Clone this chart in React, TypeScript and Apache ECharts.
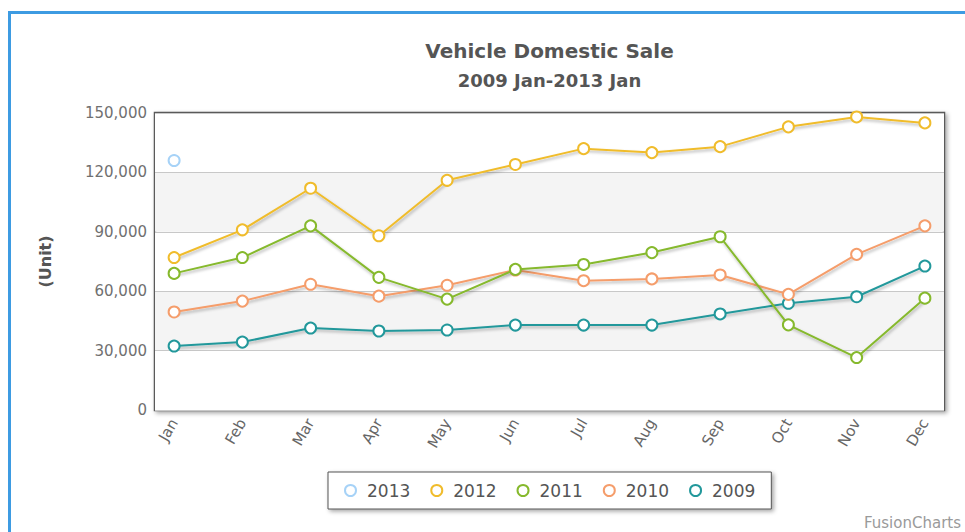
import React, { useEffect, useRef } from "react";
import * as echarts from "echarts";

const months = ["Jan", "Feb", "Mar", "Apr", "May", "Jun", "Jul", "Aug", "Sep", "Oct", "Nov", "Dec"];
const years = ["2013", "2012", "2011", "2010", "2009"];
const colors = ["#a6d2f7", "#f0bc2c", "#86b92d", "#f59d6b", "#22989b"];

const sales2013 = [126000];
const sales2012 = [77000, 91000, 112000, 88000, 116000, 124000, 132000, 130000, 133000, 143000, 148000, 145000];
const sales2011 = [69000, 77000, 93000, 67000, 56000, 71000, 73500, 79500, 87500, 43000, 26500, 56500];
const sales2010 = [49500, 55000, 63500, 57500, 63000, 70700, 65300, 66200, 68200, 58400, 78600, 93000];
const sales2009 = [32300, 34300, 41400, 39900, 40400, 42900, 42900, 42900, 48500, 53900, 57200, 72700];

const yTicks = [0, 30000, 60000, 90000, 120000, 150000];

const seriesValues = [sales2013, sales2012, sales2011, sales2010, sales2009];

export default function App() {
  const ref = useRef<HTMLDivElement>(null);
  useEffect(() => {
    if (!ref.current) return;
    const chart = echarts.init(ref.current, undefined, { renderer: "svg" });
    const font = "DejaVu Sans";
    chart.setOption({
      animation: false,
      backgroundColor: "#ffffff",
      textStyle: { fontFamily: font },
      graphic: [
        {
          type: "rect",
          shape: { x: 9.5, y: 12.5, width: 1000, height: 600 },
          style: { fill: "none", stroke: "#3d9be2", lineWidth: 3 },
          silent: true,
        },
        {
          type: "text",
          x: 549.5,
          y: 51,
          style: {
            text: "Vehicle Domestic Sale",
            fontFamily: font,
            fontWeight: "bold",
            fontSize: 20,
            fill: "#555555",
            textAlign: "center",
            textVerticalAlign: "middle",
          },
        },
        {
          type: "text",
          x: 549.5,
          y: 80,
          style: {
            text: "2009 Jan-2013 Jan",
            fontFamily: font,
            fontWeight: "bold",
            fontSize: 18,
            fill: "#555555",
            textAlign: "center",
            textVerticalAlign: "middle",
          },
        },
        {
          type: "text",
          right: 4,
          bottom: 2,
          style: {
            text: "FusionCharts",
            fontFamily: font,
            fontSize: 15,
            fill: "#9a9a9a",
          },
        },
      ],
      grid: {
        left: 155,
        right: 21,
        top: 113,
        bottom: 122,
        show: true,
        backgroundColor: "#ffffff",
        borderColor: "#5a5a5a",
        borderWidth: 2.5,
        shadowColor: "rgba(0,0,0,0.35)",
        shadowBlur: 4,
        shadowOffsetX: 2,
        shadowOffsetY: 2,
      },
      legend: {
        left: 328,
        top: 472,
        data: years.map((n, i) => ({
          name: n,
          icon: "circle",
          itemStyle: { color: "#ffffff", borderColor: colors[i], borderWidth: 2 },
        })),
        itemWidth: 11,
        itemHeight: 11,
        itemGap: 20,
        padding: [10, 16, 10, 16],
        backgroundColor: "#ffffff",
        borderColor: "#555555",
        borderWidth: 1,
        shadowColor: "rgba(0,0,0,0.35)",
        shadowBlur: 4,
        shadowOffsetX: 2,
        shadowOffsetY: 2,
        selectedMode: false,
        textStyle: { fontFamily: font, fontSize: 17, color: "#555555", padding: [0, 0, 0, 6] },
      },
      xAxis: {
        type: "value",
        min: -0.28,
        max: 11.28,
        axisLine: { show: false },
        axisTick: { show: false },
        splitLine: { show: false },
        axisLabel: {
          customValues: months.map((_, i) => i),
          formatter: (v: number) => months[Math.round(v)] ?? "",
          rotate: 60,
          margin: 10,
          fontSize: 15,
          color: "#666666",
          fontFamily: font,
        },
      },
      yAxis: {
        type: "value",
        min: 0,
        max: 150000,
        interval: 30000,
        name: "(Unit)",
        nameLocation: "middle",
        nameRotate: 90,
        nameGap: 102,
        nameTextStyle: { fontFamily: font, fontWeight: "bold", fontSize: 16, color: "#555555" },
        axisLine: { show: false },
        axisTick: { show: false },
        axisLabel: {
          margin: 8,
          fontSize: 15,
          color: "#707070",
          fontFamily: font,
          customValues: yTicks,
          formatter: (v: number) => v.toLocaleString("en-US"),
        },
        splitLine: { show: true, lineStyle: { color: "#c8c8c8", width: 1 } },
        splitArea: { show: true, areaStyle: { color: ["#ffffff", "#f4f4f4"] } },
      },
      series: years.map((name, i) => ({
        name,
        type: "line",
        data: seriesValues[i].map((v, j) => [j, v]),
        symbol: "circle",
        symbolSize: 11,
        showSymbol: true,
        itemStyle: { color: "#ffffff", borderColor: colors[i], borderWidth: 2 },
        lineStyle: {
          color: colors[i],
          width: 2,
          shadowColor: "rgba(0,0,0,0.3)",
          shadowBlur: 3,
          shadowOffsetX: 1,
          shadowOffsetY: 2,
        },
        z: 10 - i,
      })),
    });
    return () => chart.dispose();
  }, []);
  return (
    <div
      ref={ref}
      style={{ position: "absolute", left: 0, top: 0, width: 965, height: 532 }}
    />
  );
}
